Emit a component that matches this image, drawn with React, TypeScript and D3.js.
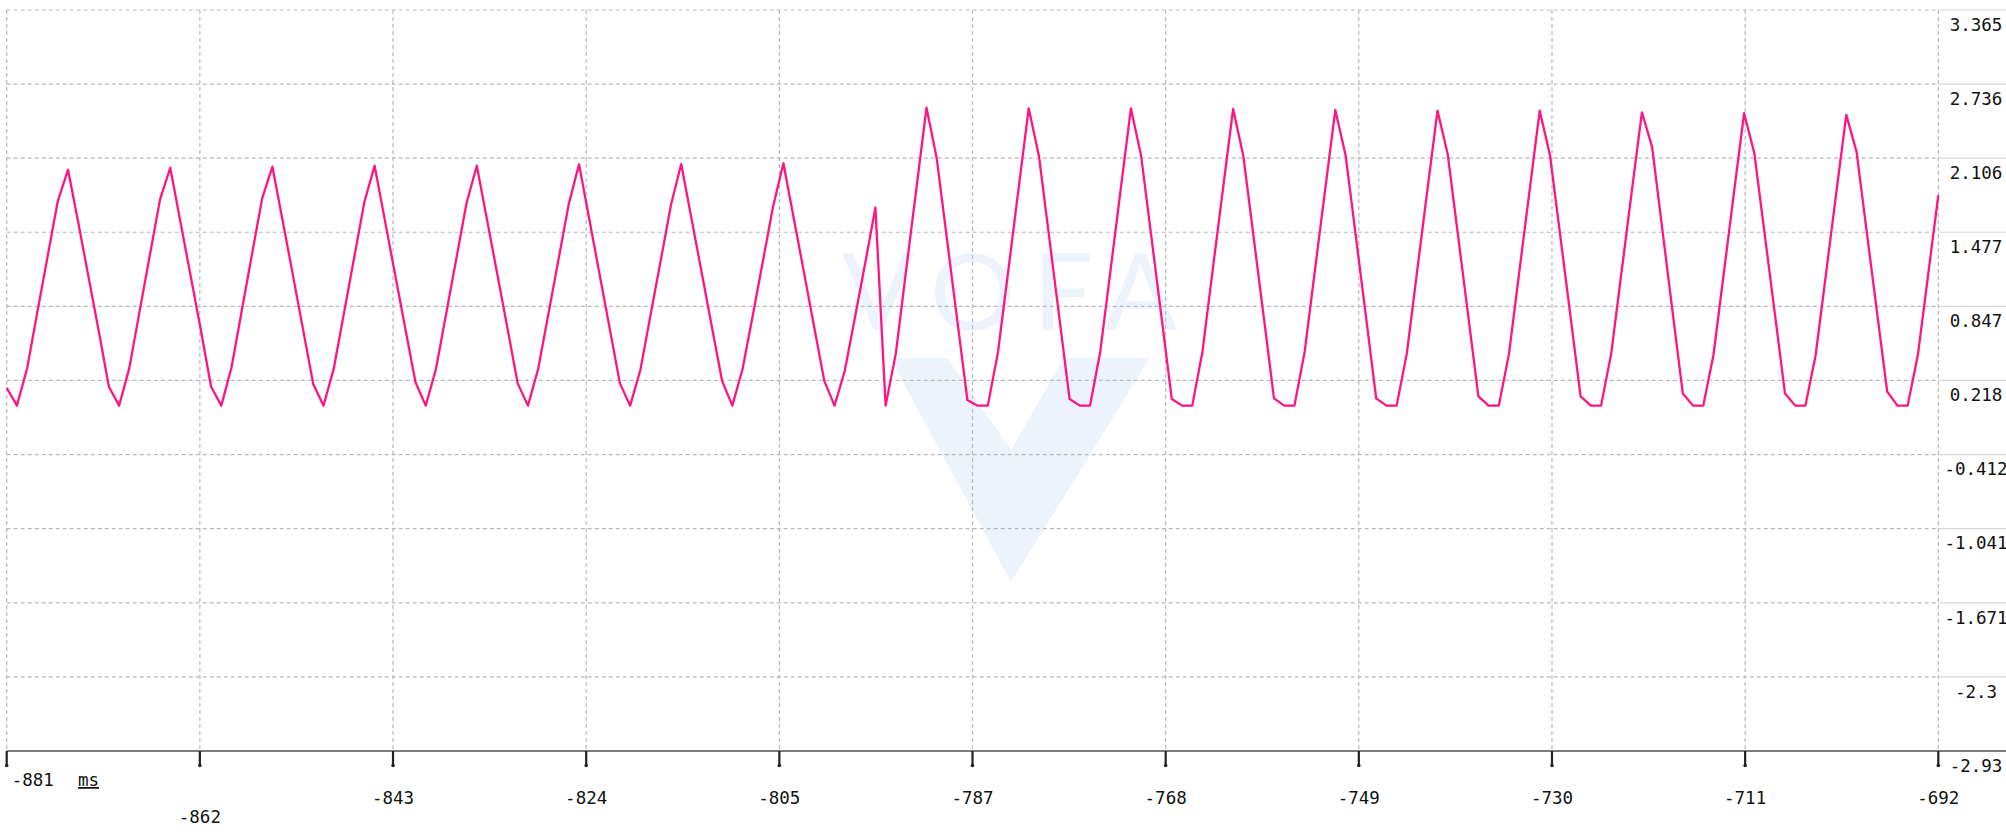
import React, { useRef, useEffect } from 'react';
import * as d3 from 'd3';

const WIDTH = 2006;
const HEIGHT = 837;

// time axis (ms)
const startTime = -881;
const endTime = -692;
const xTickValues = [-881, -862.1, -843.2, -824.3, -805.4, -786.5, -767.6, -748.7, -729.8, -710.9, -692];
const xTickLabels = ['-881', '-862', '-843', '-824', '-805', '-787', '-768', '-749', '-730', '-711', '-692'];
const unitLabel = 'ms';

// value axis
const yTickValues = [3.365, 2.736, 2.106, 1.477, 0.847, 0.218, -0.412, -1.041, -1.671, -2.3, -2.93];

// one sample per ms, starting at -881 ms
const samples = [
  0.156, 0.004, 0.321, 0.8, 1.27, 1.742, 2.008, 1.56, 1.1, 0.64,
  0.165, 0.004, 0.325, 0.805, 1.28, 1.754, 2.025, 1.565, 1.105, 0.645,
  0.165, 0.004, 0.33, 0.81, 1.29, 1.765, 2.034, 1.575, 1.115, 0.65,
  0.185, 0.004, 0.318, 0.79, 1.262, 1.735, 2.042, 1.58, 1.12, 0.66,
  0.202, 0.004, 0.315, 0.785, 1.255, 1.727, 2.042, 1.582, 1.122, 0.66,
  0.193, 0.004, 0.315, 0.78, 1.25, 1.718, 2.054, 1.59, 1.125, 0.66,
  0.193, 0.004, 0.307, 0.775, 1.24, 1.71, 2.056, 1.595, 1.135, 0.672,
  0.214, 0.004, 0.315, 0.77, 1.235, 1.7, 2.063, 1.6, 1.14, 0.676,
  0.214, 0.004, 0.298, 0.754, 1.213, 1.686, 0.004, 0.448, 1.15, 1.842,
  2.535, 2.105, 1.42, 0.735, 0.052, 0.004, 0.004, 0.462, 1.15, 1.842,
  2.53, 2.125, 1.437, 0.749, 0.06, 0.004, 0.004, 0.462, 1.15, 1.842,
  2.53, 2.125, 1.44, 0.752, 0.06, 0.004, 0.004, 0.462, 1.155, 1.84,
  2.524, 2.125, 1.44, 0.755, 0.066, 0.004, 0.004, 0.462, 1.15, 1.835,
  2.516, 2.134, 1.45, 0.76, 0.066, 0.004, 0.004, 0.448, 1.14, 1.83,
  2.51, 2.139, 1.455, 0.77, 0.083, 0.004, 0.004, 0.448, 1.14, 1.825,
  2.51, 2.134, 1.455, 0.77, 0.083, 0.004, 0.004, 0.448, 1.135, 1.82,
  2.496, 2.2, 1.5, 0.8, 0.108, 0.004, 0.004, 0.434, 1.12, 1.81,
  2.488, 2.148, 1.47, 0.79, 0.108, 0.004, 0.004, 0.434, 1.115, 1.8,
  2.474, 2.161, 1.48, 0.8, 0.123, 0.004, 0.004, 0.434, 1.11, 1.793,
];

const LINE_COLOR = '#ff1482';
const GRID_COLOR = '#b8b8b8';
const FONT = "'DejaVu Sans Mono', monospace";

const App: React.FC = () => {
  const svgRef = useRef<SVGSVGElement>(null);

  useEffect(() => {
    document.body.style.margin = '0';
    if (!svgRef.current) return;

    const svg = d3.select(svgRef.current);
    svg.selectAll('*').remove();

    const left = 6.7;
    const right = 1938.3;
    const top = 10;
    const bottom = 751;

    const x = d3.scaleLinear().domain([startTime, endTime]).range([left, right]);
    const y = d3.scaleLinear().domain([-2.93, 3.365]).range([bottom, top]);

    svg.append('rect').attr('width', WIDTH).attr('height', HEIGHT).attr('fill', '#fff');

    // watermark
    const wm = svg.append('g').attr('fill', '#ecf3fc');
    wm.append('text')
      .attr('x', 842)
      .attr('y', 330)
      .attr('font-family', 'Lato, sans-serif')
      .attr('font-weight', 400)
      .attr('font-size', 107)
      .attr('textLength', 335)
      .attr('lengthAdjust', 'spacing')
      .text('VOFA');
    wm.append('path')
      .attr('d', 'M890,358 L1150,358 L1011,582 Z M947,358 L1011,450 L1064,358 Z')
      .attr('fill-rule', 'evenodd');

    // horizontal grid
    yTickValues.forEach((v, i) => {
      const yy = y(v);
      if (i < yTickValues.length - 1) {
        svg.append('line')
          .attr('x1', left).attr('x2', right)
          .attr('y1', yy).attr('y2', yy)
          .attr('stroke', GRID_COLOR)
          .attr('stroke-width', 1.2)
          .attr('stroke-dasharray', '4,3');
      }
      svg.append('line')
        .attr('x1', right).attr('x2', WIDTH)
        .attr('y1', yy).attr('y2', yy)
        .attr('stroke', '#d8d8d8')
        .attr('stroke-width', 1.2);
    });

    // vertical grid
    xTickValues.forEach((t) => {
      svg.append('line')
        .attr('x1', x(t)).attr('x2', x(t))
        .attr('y1', top).attr('y2', bottom)
        .attr('stroke', GRID_COLOR)
        .attr('stroke-width', 1.2)
        .attr('stroke-dasharray', '4,3');
    });

    // signal
    const line = d3.line<number>()
      .x((_, i) => x(startTime + i))
      .y((d) => y(d));
    svg.append('path')
      .datum(samples)
      .attr('d', line)
      .attr('fill', 'none')
      .attr('stroke', LINE_COLOR)
      .attr('stroke-width', 2.3)
      .attr('stroke-linejoin', 'round');

    // bottom axis
    svg.append('line')
      .attr('x1', left).attr('x2', WIDTH)
      .attr('y1', bottom).attr('y2', bottom)
      .attr('stroke', '#7a7a7a')
      .attr('stroke-width', 1.8);

    xTickValues.forEach((t, i) => {
      const xx = x(t);
      svg.append('line')
        .attr('x1', xx).attr('x2', xx)
        .attr('y1', bottom).attr('y2', bottom + 14)
        .attr('stroke', '#222')
        .attr('stroke-width', 2.2);
      svg.append('circle')
        .attr('cx', xx).attr('cy', bottom + 14.5)
        .attr('r', 1.8)
        .attr('fill', '#222');

      let ly = 804;
      let anchor = 'middle';
      let lx = xx;
      if (i === 0) {
        ly = 786;
        anchor = 'start';
        lx = xx + 5;
      } else if (i === 1) {
        ly = 823;
      }
      svg.append('text')
        .attr('x', lx)
        .attr('y', ly)
        .attr('text-anchor', anchor)
        .attr('font-family', FONT)
        .attr('font-size', 17.5)
        .attr('fill', '#111')
        .text(xTickLabels[i]);
    });

    svg.append('text')
      .attr('x', 78)
      .attr('y', 786)
      .attr('font-family', FONT)
      .attr('font-size', 17.5)
      .attr('fill', '#111')
      .attr('text-decoration', 'underline')
      .text(unitLabel);

    // right value labels
    yTickValues.forEach((v) => {
      const cy = Math.max(y(v) + 14.5, 16);
      svg.append('text')
        .attr('x', 1976)
        .attr('y', cy)
        .attr('dy', '0.36em')
        .attr('text-anchor', 'middle')
        .attr('font-family', FONT)
        .attr('font-size', 17.5)
        .attr('fill', '#111')
        .text(String(v));
    });
  }, []);

  return (
    <svg
      ref={svgRef}
      width={WIDTH}
      height={HEIGHT}
      style={{ display: 'block' }}
    />
  );
};

export default App;
